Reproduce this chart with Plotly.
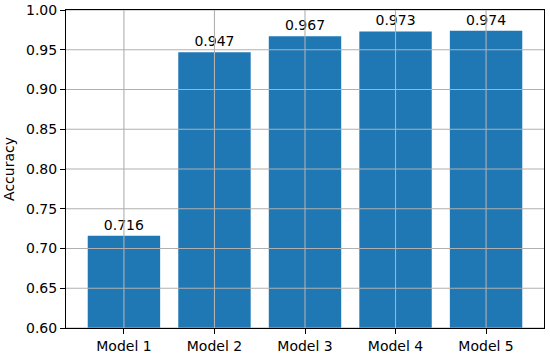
import plotly.graph_objects as go

models = ["Model 1", "Model 2", "Model 3", "Model 4", "Model 5"]
accuracy = [0.716, 0.947, 0.967, 0.973, 0.974]
labels = [f"{v:.3f}" for v in accuracy]
y_ticks = [0.60, 0.65, 0.70, 0.75, 0.80, 0.85, 0.90, 0.95, 1.00]

FONT = dict(family="DejaVu Sans", size=14, color="black")
GRID = dict(color="#b0b0b0", width=1.1)

xpos = list(range(len(models)))

fig = go.Figure(go.Bar(
    x=xpos, y=accuracy, width=0.8,
    marker=dict(color="#1f77b4", line=dict(width=0)),
    text=labels, textposition="outside", cliponaxis=False,
    textfont=FONT,
))

# gridlines drawn above the bars, as in the reference
shapes = []
for yv in y_ticks:
    shapes.append(dict(type="line", xref="paper", yref="y", x0=0, x1=1, y0=yv, y1=yv,
                       line=GRID, layer="above"))
for xv in xpos:
    shapes.append(dict(type="line", xref="x", yref="paper", x0=xv, x1=xv, y0=0, y1=1,
                       line=GRID, layer="above"))

axis_common = dict(
    showline=True, linecolor="black", linewidth=1.1, mirror=True,
    ticks="outside", ticklen=5, tickwidth=1.1, tickcolor="black",
    showgrid=False, zeroline=False, layer="above traces",
    tickfont=FONT, automargin=False,
)

fig.update_layout(
    template="none",
    width=550, height=356,
    margin=dict(l=66, r=6, t=10, b=28, autoexpand=False),
    paper_bgcolor="white", plot_bgcolor="white",
    showlegend=False,
    shapes=shapes,
    uniformtext=dict(minsize=8, mode="show"),
    xaxis=dict(range=[-0.64, 4.64], tickvals=xpos, ticktext=models, **axis_common),
    yaxis=dict(range=[0.6, 1.0], tickvals=y_ticks, tickformat=".2f",
               title=dict(text="Accuracy", font=FONT, standoff=8),
               **axis_common),
)

fig.write_html("out.html", config={"displayModeBar": False},
               post_script="document.body.style.margin='0';")
